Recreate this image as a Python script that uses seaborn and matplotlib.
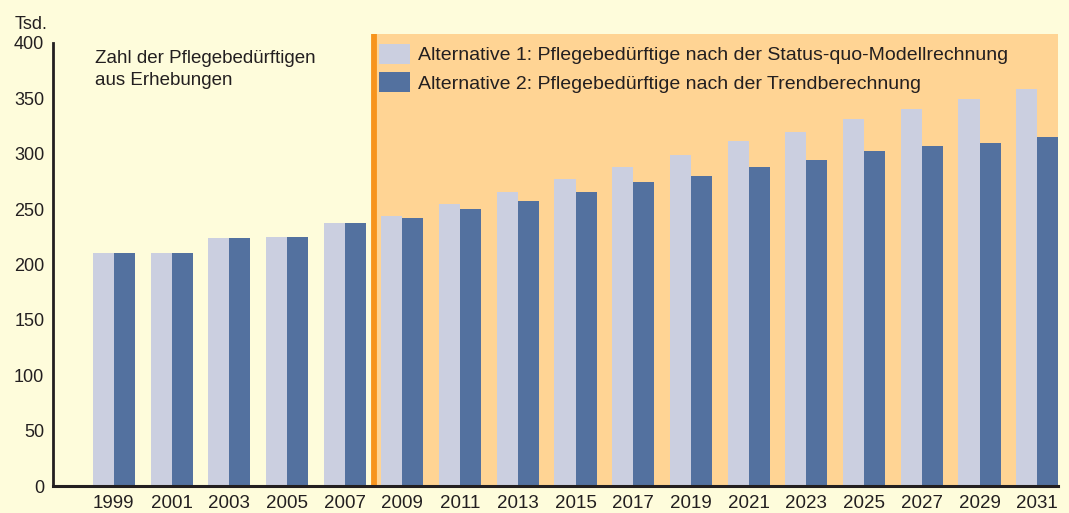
import pandas as pd
import matplotlib
matplotlib.use('Agg')
import matplotlib.pyplot as plt
import seaborn as sns

# Data (Tsd.)
years = ['1999', '2001', '2003', '2005', '2007', '2009', '2011', '2013', '2015',
         '2017', '2019', '2021', '2023', '2025', '2027', '2029', '2031']
alt1 = [210, 210, 224, 225, 237, 244, 255, 265, 277, 288, 299, 311, 320, 331, 340, 349, 358]
alt2 = [210, 210, 224, 225, 237, 242, 250, 257, 265, 274, 280, 288, 294, 302, 307, 310, 315]
labels = ['Alternative 1: Pflegebedürftige nach der Status-quo-Modellrechnung',
          'Alternative 2: Pflegebedürftige nach der Trendberechnung']
yticks = [0, 50, 100, 150, 200, 250, 300, 350, 400]

bg = '#FEFCDB'
orange_bg = '#FFD494'
orange_line = '#F7941D'
light_bar = '#CBCFE0'
dark_bar = '#53719F'
ink = '#231F20'

df = pd.DataFrame({
    'year': years * 2,
    'value': alt1 + alt2,
    'series': [labels[0]] * len(years) + [labels[1]] * len(years),
})

sns.set_style('white')
plt.rcParams['font.family'] = ['Liberation Sans', 'DejaVu Sans']
plt.rcParams['font.size'] = 13

fig = plt.figure(figsize=(10.69, 5.13), dpi=100, facecolor=bg)
ax = fig.add_axes([0.0493, 0.0526, 0.9404, 0.8811])
ax.set_facecolor(bg)

sns.barplot(data=df, x='year', y='value', hue='series',
            palette=[light_bar, dark_bar], width=0.73, saturation=1,
            linewidth=0, ax=ax, zorder=2)

# shaded projection area + separator line
xmax = 16.36
ax.axvspan(4.5, xmax, color=orange_bg, zorder=0, lw=0)
ax.axvline(4.5, ymin=0, ymax=1, color=orange_line, lw=4.2, zorder=3)

ax.set_xlim(-1.06, xmax)
ax.set_ylim(0, 408)
ax.set_yticks(yticks)
ax.set_xlabel('')
ax.set_ylabel('')

for s in ['top', 'right']:
    ax.spines[s].set_visible(False)
ax.spines['left'].set_bounds(0, 400)
ax.spines['left'].set_linewidth(2)
ax.spines['bottom'].set_linewidth(2.2)
ax.spines['left'].set_color(ink)
ax.spines['bottom'].set_color(ink)
ax.spines['left'].set_zorder(4)
ax.spines['bottom'].set_zorder(4)

ax.tick_params(axis='y', direction='in', length=8, width=2, color=ink,
               labelcolor=ink, labelsize=13, pad=6)
ax.tick_params(axis='x', length=0, labelcolor=ink, labelsize=13.5, pad=6.5)

handles, _ = ax.get_legend_handles_labels()
ax.legend(handles=handles, labels=labels, loc='upper left',
          bbox_to_anchor=(0.3545, 0.9142), bbox_transform=fig.transFigure,
          frameon=False, fontsize=14, handlelength=1.6, handleheight=1.19,
          handletextpad=0.42, labelspacing=0.41, borderaxespad=0, borderpad=0)
for t in ax.get_legend().get_texts():
    t.set_color(ink)

fig.text(0.0889, 0.902, 'Zahl der Pflegebedürftigen\naus Erhebungen',
         ha='left', va='top', fontsize=13.5, color=ink, linespacing=1.38)
fig.text(0.014, 0.968, 'Tsd.', ha='left', va='top', fontsize=13, color=ink)

fig.savefig('out.png', dpi=100, facecolor=bg)
